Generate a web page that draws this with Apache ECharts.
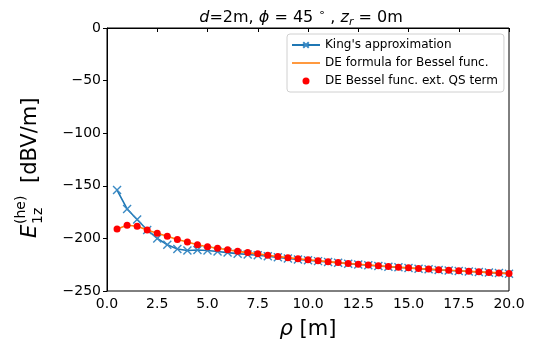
<!DOCTYPE html>
<html>
<head>
<meta charset="utf-8">
<script src="https://cdn.jsdelivr.net/npm/echarts@6/dist/echarts.min.js"></script>
<style>
  html, body { margin: 0; padding: 0; background: #fff; }
  #chart { width: 543px; height: 349px; }
</style>
</head>
<body>
<div id="chart"></div>
<script>
// distance rho [m], sampled every 0.5 m
const rho = [
  0.5, 1.0, 1.5, 2.0, 2.5, 3.0, 3.5, 4.0, 4.5, 5.0,
  5.5, 6.0, 6.5, 7.0, 7.5, 8.0, 8.5, 9.0, 9.5, 10.0,
  10.5, 11.0, 11.5, 12.0, 12.5, 13.0, 13.5, 14.0, 14.5, 15.0,
  15.5, 16.0, 16.5, 17.0, 17.5, 18.0, 18.5, 19.0, 19.5, 20.0
];

// King's approximation [dBV/m]
const kingApprox = [
  -154, -172, -182, -192, -200, -206, -210, -211.5, -211, -211.5,
  -212.5, -213.5, -214.5, -215.3, -216, -217, -218, -219, -220, -220.8,
  -221.6, -222.5, -223.2, -224, -224.8, -225.5, -226.2, -226.9, -227.5, -228.2,
  -228.8, -229.4, -230, -230.5, -231, -231.5, -232, -232.5, -233, -233.5
];

// DE formula for Bessel func. (the QS-term extension lies on the same curve)
const deBessel = [
  -191, -187.5, -188.5, -192, -195, -198, -201, -203.5, -206, -208,
  -209.3, -210.8, -212.3, -213.5, -214.7, -216, -217.2, -218.3, -219.3, -220.3,
  -221.2, -222.1, -223, -223.8, -224.6, -225.3, -226, -226.7, -227.4, -228,
  -228.6, -229.2, -229.8, -230.3, -230.8, -231.3, -231.8, -232.3, -232.8, -233.3
];
const deQS = deBessel.slice();

const seriesNames = [
  "King's approximation",
  "DE formula for Bessel func.",
  "DE Bessel func. ext. QS term"
];

const FONT = "DejaVu Sans";
const pairs = (ys) => rho.map((x, i) => [x, ys[i]]);
const minus = (v) => String(v).replace("-", "\u2212");

const chart = echarts.init(document.getElementById("chart"));

chart.setOption({
  animation: false,
  textStyle: { fontFamily: FONT },
  title: {
    text: "{i|d}=2m, {i|\u03d5} = 45 {sup|\u2218} , {i|z}{sub|r} = 0m",
    left: 296,
    textAlign: "center",
    top: 3,
    textStyle: {
      fontFamily: FONT,
      fontSize: 16,
      fontWeight: "normal",
      color: "#000",
      lineHeight: 20,
      rich: {
        i: { fontFamily: FONT, fontSize: 16, fontStyle: "italic", color: "#000" },
        sup: { fontFamily: FONT, fontSize: 11, verticalAlign: "top", color: "#000" },
        sub: { fontFamily: FONT, fontSize: 11, fontStyle: "italic", verticalAlign: "bottom", color: "#000" }
      }
    }
  },
  legend: {
    orient: "vertical",
    left: 287,
    top: 34,
    padding: [5, 6, 5, 4],
    itemGap: 6,
    itemWidth: 28,
    itemHeight: 7,
    borderColor: "#d0d0d0",
    borderWidth: 1,
    borderRadius: 3,
    backgroundColor: "#fff",
    textStyle: { fontFamily: FONT, fontSize: 12, color: "#000" },
    data: [
      seriesNames[0],
      {
        name: seriesNames[1],
        // plain orange line as the legend handle
        icon: "path://M0,0M28,7M0,2.7L28,2.7L28,4.3L0,4.3Z",
        itemStyle: { color: "#ff7f0e", borderWidth: 0 }
      },
      seriesNames[2]
    ]
  },
  grid: { left: 107, right: 34, top: 28, bottom: 58, show: true, borderColor: "#000", borderWidth: 1 },
  xAxis: {
    type: "value",
    min: 0,
    max: 20,
    interval: 2.5,
    name: "{i|\u03c1} [m]",
    nameLocation: "middle",
    nameGap: 28,
    nameTextStyle: {
      fontFamily: FONT, fontSize: 21, color: "#000",
      rich: { i: { fontFamily: FONT, fontSize: 21, fontStyle: "italic", color: "#000" } }
    },
    axisLine: { lineStyle: { color: "#000", width: 1 } },
    axisTick: { show: true, length: 4, lineStyle: { color: "#000" } },
    axisLabel: { fontFamily: FONT, fontSize: 14, color: "#000", margin: 6, formatter: (v) => v.toFixed(1) },
    splitLine: { show: false }
  },
  yAxis: {
    type: "value",
    min: -250,
    max: 0,
    interval: 50,
    axisLine: { show: true, lineStyle: { color: "#000", width: 1 } },
    axisTick: { show: true, length: 4, lineStyle: { color: "#000" } },
    axisLabel: { fontFamily: FONT, fontSize: 14, color: "#000", margin: 6, formatter: minus },
    splitLine: { show: false }
  },
  graphic: [
    {
      // y axis label E_1z^(he) [dBV/m], rotated to read bottom-to-top
      type: "group",
      x: 37,
      y: 238,
      rotation: Math.PI / 2,
      children: [
        { type: "text", x: 0, y: 4, style: { text: "E", fontFamily: FONT, fontSize: 21, fontStyle: "italic", fill: "#000", verticalAlign: "bottom" } },
        { type: "text", x: 14, y: -9, style: { text: "(he)", fontFamily: FONT, fontSize: 14, fill: "#000", verticalAlign: "bottom" } },
        { type: "text", x: 14, y: 8, style: { text: "1z", fontFamily: FONT, fontSize: 14, fill: "#000", verticalAlign: "bottom" } },
        { type: "text", x: 55, y: 4, style: { text: "[dBV/m]", fontFamily: FONT, fontSize: 21, fill: "#000", verticalAlign: "bottom" } }
      ]
    }
  ],
  series: [
    {
      name: seriesNames[0],
      type: "line",
      data: pairs(kingApprox),
      symbol: "path://M0,0L10,10M10,0L0,10",
      symbolSize: 8,
      showSymbol: true,
      itemStyle: { color: "#1f77b4", borderColor: "#3a8ac4", borderWidth: 1.4 },
      lineStyle: { color: "#1f77b4", width: 1.6 },
      z: 2
    },
    {
      name: seriesNames[1],
      type: "line",
      data: pairs(deBessel),
      showSymbol: false,
      itemStyle: { color: "#ff7f0e" },
      lineStyle: { color: "#ff7f0e", width: 1.6 },
      z: 3
    },
    {
      name: seriesNames[2],
      type: "scatter",
      data: pairs(deQS),
      symbol: "circle",
      symbolSize: 7,
      itemStyle: { color: "#ff0000", opacity: 1 },
      z: 4
    }
  ]
});
</script>
</body>
</html>
